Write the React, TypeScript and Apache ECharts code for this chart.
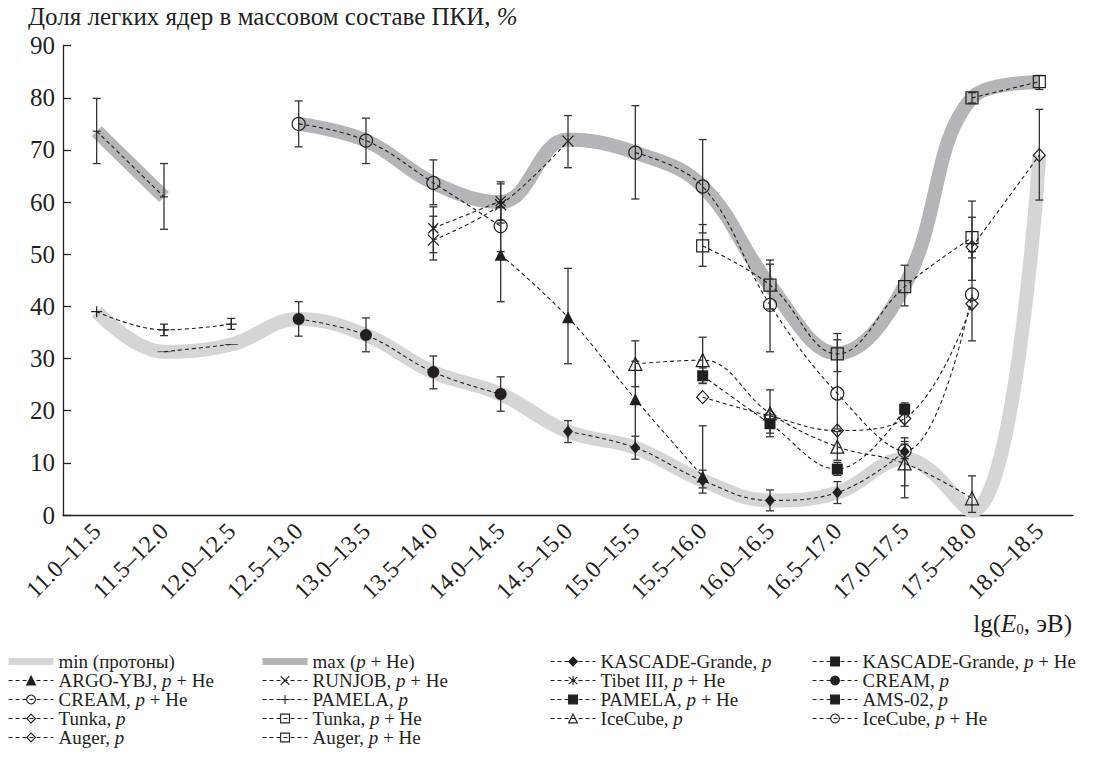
import React, { useEffect, useRef } from 'react';
import * as echarts from 'echarts';

const FONT = 'Liberation Serif';
const INK = '#231f20';
const N = null;

const categories = [
  '11.0–11.5', '11.5–12.0', '12.0–12.5', '12.5–13.0', '13.0–13.5',
  '13.5–14.0', '14.0–14.5', '14.5–15.0', '15.0–15.5', '15.5–16.0',
  '16.0–16.5', '16.5–17.0', '17.0–17.5', '17.5–18.0', '18.0–18.5',
];
const yTicks = [0, 10, 20, 30, 40, 50, 60, 70, 80, 90];

// envelope bands
const minProtons = [39, 31.3, 32.7, 37.6, 34.5, 27.4, 23.2, 16, 12.9, 6.6, 2.8, 4.3, 10.8, 0.8, 69];
const maxPHe = [73.6, 61, N, 75, 71.8, 63.7, 60, 72, 69.5, 63, 44, 31, 44, 80, 83];

// experiments (value per energy bin) and error bars [low, high]
const kascadeP = [N, N, N, N, N, N, N, 16, 12.9, 6.6, 2.8, 4.3, 12.2, N, N];
const kascadePErr = [N, N, N, N, N, N, N, [13.9, 18.1], [10.7, 15.1], [5.2, 8.6], [0.8, 4.8], [2.2, 6.4], [10.8, 13.6], N, N];
const kascadePHe = [N, N, N, N, N, N, N, N, N, 26.7, 17.5, 8.8, 20.3, N, N];
const kascadePHeErr = [N, N, N, N, N, N, N, N, N, [25.2, 28.2], [15.7, 19.2], [7.6, 10.1], [19.2, 21.5], N, N];
const argo = [N, N, N, N, N, N, 49.9, 37.9, 22.2, 7.4, N, N, N, N, N];
const argoErr = [N, N, N, N, N, N, [40.9, 59], [29, 47.3], [13, 29.5], [4.2, 17.1], N, N, N, N, N];
const runjob = [N, N, N, N, N, 52.7, 59.5, 71.7, N, N, N, N, N, N, N];
const runjobErr = [N, N, N, N, N, [48.9, 57.3], [56, 63.9], [66.6, 76.6], N, N, N, N, N, N, N];
const tibet = [N, N, N, N, N, 55, 60.2, N, N, N, N, N, N, N, N];
const tibetErr = [N, N, N, N, N, [50.3, 59.1], [56.5, 63.5], N, N, N, N, N, N, N, N];
const creamP = [N, N, N, 37.6, 34.5, 27.4, 23.2, N, N, N, N, N, N, N, N];
const creamPErr = [N, N, N, [34.3, 40.9], [31.3, 37.8], [24.2, 30.5], [19.9, 26.5], N, N, N, N, N, N, N, N];
const creamPHe = [N, N, N, 75, 71.8, 63.7, 55.4, N, N, N, N, N, N, N, N];
const creamPHeErr = [N, N, N, [70.6, 79.4], [67.4, 76.1], [59.5, 68.1], [50.5, 60], N, N, N, N, N, N, N, N];
const pamelaP = [39, 35.5, 36.6, N, N, N, N, N, N, N, N, N, N, N, N];
const pamelaPErr = [N, [34.4, 36.6], [35.6, 37.7], N, N, N, N, N, N, N, N, N, N, N, N];
const pamelaPHe = [73.6, 61, N, N, N, N, N, N, N, N, N, N, N, N, N];
const pamelaPHeErr = [[67.4, 79.9], [54.8, 67.4], N, N, N, N, N, N, N, N, N, N, N, N, N];
const amsP = [N, 31.3, 32.7, N, N, N, N, N, N, N, N, N, N, N, N];
const tunkaP = [N, N, N, N, N, N, N, N, N, 22.6, 19, 16.2, 18.5, 40.5, N];
const tunkaPErr = [N, N, N, N, N, N, N, N, N, N, N, N, [17, 20], N, N];
const tunkaPHe = [N, N, N, N, N, N, N, N, N, 51.6, 44.1, 30.9, 43.8, 53.2, N];
const tunkaPHeErr = [N, N, N, N, N, N, N, N, N, [47.7, 55.7], [39.5, 48.9], [27.5, 34.8], [40.1, 47.9], [49.3, 57.1], N];
const icecubeP = [N, N, N, N, N, N, N, N, 29, 29.7, 19.5, 13.1, 9.9, 3.2, N];
const icecubePErr = [N, N, N, N, N, N, N, N, [24.6, 33.4], [25.3, 34.1], [15, 24], [10.5, 16], [3.3, 14.8], [0.5, 7.5], N];
const icecubePHe = [N, N, N, N, N, N, N, N, 69.5, 63, 40.3, 23.3, 12.3, 42.3, N];
const icecubePHeErr = [N, N, N, N, N, N, N, N, [60.6, 78.5], [54.1, 72], [31.3, 48.1], [16.5, 33.6], [5.6, 14.1], [33.4, 50.5], N];
const augerP = [N, N, N, N, N, N, N, N, N, N, N, N, N, 51.4, 69];
const augerPErr = [N, N, N, N, N, N, N, N, N, N, N, N, N, [45, 60.2], [60.4, 77.8]];
const augerPHe = [N, N, N, N, N, N, N, N, N, N, N, N, N, 80, 83.1];
const augerPHeErr = [N, N, N, N, N, N, N, N, N, N, N, N, N, [79, 81], [81.6, 84.3]];

const SYM_X = 'path://M0,0 L10,10 M10,0 L0,10';
const SYM_AST = 'path://M0,1 L10,11 M10,1 L0,11 M5,0 L5,12';
const SYM_PLUS = 'path://M0,5 L10,5 M5,0 L5,10';
const SYM_DASH_S = 'path://M0,0 L8,0 L8,3 L0,3 Z';
const SYM_DASH_L = 'path://M0,0 L13,0 L13,3 L0,3 Z';
const BAND_ICON = 'path://M0,0 L45,0 L45,7 L0,7 Z';

const MIN_COLOR = '#d4d5d7';
const MAX_COLOR = '#b4b5b8';

type Exp = { name: string; values: (number | null)[]; err: any[]; symbol: string; size: any; filled: boolean };

const experiments: Exp[] = [
  { name: 'KASCADE-Grande, p', values: kascadeP, err: kascadePErr, symbol: 'diamond', size: [10, 12], filled: true },
  { name: 'KASCADE-Grande, p + He', values: kascadePHe, err: kascadePHeErr, symbol: 'rect', size: 11, filled: true },
  { name: 'ARGO-YBJ, p + He', values: argo, err: argoErr, symbol: 'triangle', size: 12, filled: true },
  { name: 'RUNJOB, p + He', values: runjob, err: runjobErr, symbol: SYM_X, size: 11, filled: false },
  { name: 'Tibet III, p + He', values: tibet, err: tibetErr, symbol: SYM_AST, size: 12, filled: false },
  { name: 'CREAM, p', values: creamP, err: creamPErr, symbol: 'circle', size: 12, filled: true },
  { name: 'CREAM, p + He', values: creamPHe, err: creamPHeErr, symbol: 'circle', size: 13, filled: false },
  { name: 'PAMELA, p', values: pamelaP, err: pamelaPErr, symbol: SYM_PLUS, size: 11, filled: false },
  { name: 'PAMELA, p + He', values: pamelaPHe, err: pamelaPHeErr, symbol: SYM_DASH_S, size: [8, 3], filled: true },
  { name: 'AMS-02, p', values: amsP, err: [], symbol: SYM_DASH_L, size: [13, 3], filled: true },
  { name: 'Tunka, p', values: tunkaP, err: tunkaPErr, symbol: 'diamond', size: [12, 13], filled: false },
  { name: 'Tunka, p + He', values: tunkaPHe, err: tunkaPHeErr, symbol: 'rect', size: 12, filled: false },
  { name: 'IceCube, p', values: icecubeP, err: icecubePErr, symbol: 'triangle', size: 13, filled: false },
  { name: 'IceCube, p + He', values: icecubePHe, err: icecubePHeErr, symbol: 'circle', size: 13, filled: false },
  { name: 'Auger, p', values: augerP, err: augerPErr, symbol: 'diamond', size: [12, 13], filled: false },
  { name: 'Auger, p + He', values: augerPHe, err: augerPHeErr, symbol: 'rect', size: 12, filled: false },
];

const legendCols = [
  ['min (протоны)', 'ARGO-YBJ, p + He', 'CREAM, p + He', 'Tunka, p', 'Auger, p'],
  ['max (p + He)', 'RUNJOB, p + He', 'PAMELA, p', 'Tunka, p + He', 'Auger, p + He'],
  ['KASCADE-Grande, p', 'Tibet III, p + He', 'PAMELA, p + He', 'IceCube, p'],
  ['KASCADE-Grande, p + He', 'CREAM, p', 'AMS-02, p', 'IceCube, p + He'],
];
const legendLeft = [8, 262, 550, 812];

const fmt = (name: string) => name.replace(/([(\s])p(?=[\s)]|$)/g, '$1{i|p}');

export default function App() {
  const ref = useRef<HTMLDivElement>(null);
  useEffect(() => {
    if (!ref.current) return;
    const chart = echarts.init(ref.current, undefined, { renderer: 'svg' });

    const errData: number[][] = [];
    experiments.forEach((e) => {
      e.err.forEach((r: any, i: number) => {
        if (r) errData.push([i, r[0], r[1]]);
      });
    });

    const bandColors: Record<string, string> = { 'min (протоны)': MIN_COLOR, 'max (p + He)': MAX_COLOR };

    const series: any[] = [
      {
        name: 'min (протоны)', type: 'line', data: minProtons, smooth: 0.4, symbol: 'none',
        lineStyle: { color: MIN_COLOR, width: 14, cap: 'butt' }, itemStyle: { color: MIN_COLOR },
        z: 1, silent: true, connectNulls: false,
      },
      {
        name: 'max (p + He)', type: 'line', data: maxPHe, smooth: 0.4, symbol: 'none',
        lineStyle: { color: MAX_COLOR, width: 14, cap: 'butt' }, itemStyle: { color: MAX_COLOR },
        z: 1, silent: true, connectNulls: false,
      },
      {
        name: 'errors', type: 'custom', data: errData, encode: { x: 0, y: [1, 2] }, z: 3, silent: true,
        renderItem: (params: any, api: any) => {
          const x = api.value(0);
          const p1 = api.coord([x, api.value(1)]);
          const p2 = api.coord([x, api.value(2)]);
          const w = 4;
          const st = { stroke: '#333', lineWidth: 1.3 };
          return {
            type: 'group',
            children: [
              { type: 'line', shape: { x1: p1[0], y1: p1[1], x2: p2[0], y2: p2[1] }, style: st },
              { type: 'line', shape: { x1: p1[0] - w, y1: p1[1], x2: p1[0] + w, y2: p1[1] }, style: st },
              { type: 'line', shape: { x1: p2[0] - w, y1: p2[1], x2: p2[0] + w, y2: p2[1] }, style: st },
            ],
          };
        },
      },
      ...experiments.map((e) => ({
        name: e.name, type: 'line', data: e.values, smooth: 0.4, connectNulls: false,
        symbol: e.symbol, symbolSize: e.size, symbolKeepAspect: true, showAllSymbol: true,
        lineStyle: { color: INK, width: 1.1, type: [4, 3] },
        itemStyle: {
          color: e.filled ? INK : 'rgba(0,0,0,0)',
          borderColor: INK,
          borderWidth: e.filled ? 0 : 1.2,
        },
        emphasis: { disabled: true },
        z: 4,
      })),
    ];

    const option: any = {
      animation: false,
      backgroundColor: '#ffffff',
      textStyle: { fontFamily: FONT },
      title: {
        text: 'Доля легких ядер в массовом составе ПКИ, {i|%}',
        left: 28, top: 4, padding: 0,
        textStyle: {
          fontFamily: FONT, fontSize: 25, fontWeight: 'normal', color: INK,
          rich: { i: { fontFamily: FONT, fontSize: 25, fontStyle: 'italic', color: INK } },
        },
      },
      grid: { left: 63, right: 31, top: 45.7, bottom: 249, containLabel: false },
      xAxis: {
        type: 'category', data: categories, boundaryGap: true,
        axisLine: { lineStyle: { color: INK, width: 1.3 } },
        axisTick: { inside: true, length: 8, interval: 0, lineStyle: { color: INK, width: 1.3 } },
        axisLabel: { interval: 0, rotate: 45, margin: 12, fontFamily: FONT, fontSize: 24, color: INK },
        splitLine: { show: false },
      },
      yAxis: {
        type: 'value', min: yTicks[0], max: yTicks[yTicks.length - 1], interval: 10,
        axisLine: { show: true, lineStyle: { color: INK, width: 1.3 } },
        axisTick: { show: true, inside: true, length: 8, lineStyle: { color: INK, width: 1.3 } },
        axisLabel: { margin: 8, fontFamily: FONT, fontSize: 25, color: INK },
        splitLine: { show: false },
      },
      legend: legendCols.map((names, k) => ({
        orient: 'vertical', left: legendLeft[k], top: 652, padding: 0, itemGap: 0,
        itemWidth: 45, itemHeight: 11, selectedMode: false,
        data: names.map((n) => (bandColors[n]
          ? { name: n, icon: BAND_ICON, itemStyle: { color: bandColors[n], borderWidth: 0 } }
          : n)),
        formatter: fmt,
        itemStyle: { borderWidth: 1.1 },
        lineStyle: { width: 1.1 },
        textStyle: {
          fontFamily: FONT, fontSize: 19, color: INK, lineHeight: 19,
          rich: { i: { fontFamily: FONT, fontSize: 19, fontStyle: 'italic', color: INK, lineHeight: 19 } },
        },
      })),
      graphic: [
        {
          type: 'text', right: 32, top: 611,
          style: {
            text: 'lg({i|E}{s|0}, эВ)',
            fontFamily: FONT, fontSize: 25, fill: INK,
            rich: {
              i: { fontFamily: FONT, fontSize: 25, fontStyle: 'italic', fill: INK },
              s: { fontFamily: FONT, fontSize: 15, fill: INK, padding: [10, 0, 0, 0] },
            },
          },
        },
      ],
      series,
    };
    chart.setOption(option);
    return () => chart.dispose();
  }, []);

  return (
    <div
      ref={ref}
      style={{ position: 'absolute', left: 0, top: 0, width: 1104, height: 764, background: '#fff' }}
    />
  );
}
